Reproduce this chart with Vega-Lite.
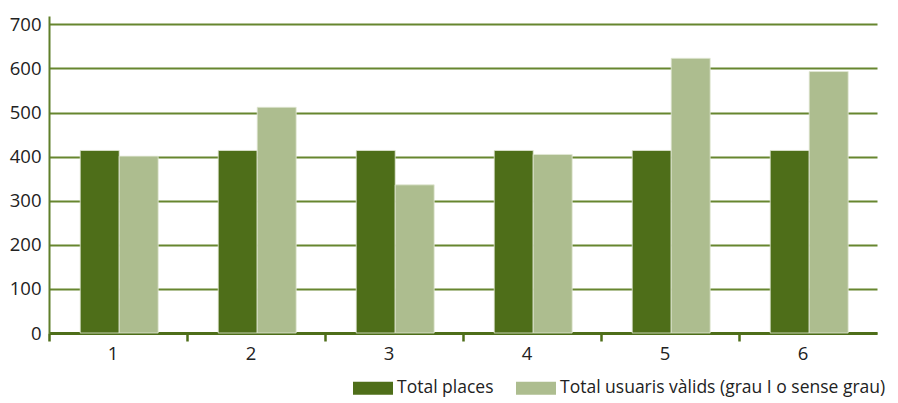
{
  "$schema": "https://vega.github.io/schema/vega-lite/v6.json",
  "autosize": {"type": "none"},
  "padding": {"left": 49, "top": 16, "right": 21, "bottom": 70},
  "width": 828,
  "height": 317,
  "background": "white",
  "config": {
    "view": {"stroke": null},
    "font": "Open Sans"
  },
  "data": {
    "values": [
      {"grup": "1", "serie": "Total places", "valor": 414},
      {"grup": "1", "serie": "Total usuaris vàlids (grau I o sense grau)", "valor": 401},
      {"grup": "2", "serie": "Total places", "valor": 414},
      {"grup": "2", "serie": "Total usuaris vàlids (grau I o sense grau)", "valor": 512},
      {"grup": "3", "serie": "Total places", "valor": 414},
      {"grup": "3", "serie": "Total usuaris vàlids (grau I o sense grau)", "valor": 336},
      {"grup": "4", "serie": "Total places", "valor": 414},
      {"grup": "4", "serie": "Total usuaris vàlids (grau I o sense grau)", "valor": 405},
      {"grup": "5", "serie": "Total places", "valor": 414},
      {"grup": "5", "serie": "Total usuaris vàlids (grau I o sense grau)", "valor": 623},
      {"grup": "6", "serie": "Total places", "valor": 414},
      {"grup": "6", "serie": "Total usuaris vàlids (grau I o sense grau)", "valor": 593}
    ]
  },
  "mark": {"type": "bar", "stroke": "#e2e8d6", "strokeWidth": 0.8},
  "encoding": {
    "x": {
      "field": "grup",
      "type": "nominal",
      "scale": {"paddingInner": 0, "paddingOuter": 0},
      "axis": {
        "title": null,
        "labelAngle": 0,
        "labelFontSize": 18.5,
        "labelColor": "#222222",
        "labelPadding": 3,
        "bandPosition": 0,
        "labelOffset": -5,
        "domainColor": "#4e6e19",
        "domainWidth": 3,
        "tickColor": "#4e6e19",
        "tickWidth": 2.5,
        "tickSize": 8,
        "grid": false
      }
    },
    "xOffset": {
      "field": "serie",
      "type": "nominal",
      "scale": {"paddingInner": 0, "paddingOuter": 0.77, "align": 0.52}
    },
    "y": {
      "field": "valor",
      "type": "quantitative",
      "scale": {"domain": [0, 719], "nice": false},
      "axis": {
        "title": null,
        "values": [0, 100, 200, 300, 400, 500, 600, 700],
        "labelFontSize": 18.5,
        "labelColor": "#222222",
        "labelPadding": 8,
        "ticks": false,
        "domainColor": "#5f7f2a",
        "domainWidth": 2,
        "grid": true,
        "gridColor": "#67862f",
        "gridWidth": 2
      }
    },
    "color": {
      "field": "serie",
      "type": "nominal",
      "scale": {
        "domain": ["Total places", "Total usuaris vàlids (grau I o sense grau)"],
        "range": ["#4e6e19", "#adbd8f"]
      },
      "legend": {
        "title": null,
        "orient": "none",
        "direction": "horizontal",
        "legendX": 304,
        "legendY": 352,
        "symbolType": "M-1,-0.33L1,-0.33L1,0.33L-1,0.33Z",
        "symbolSize": 1600,
        "symbolStrokeWidth": 0,
        "labelFontSize": 17.5,
        "labelColor": "#222222",
        "labelOffset": 4,
        "columnPadding": 22,
        "labelLimit": 500
      }
    }
  }
}
